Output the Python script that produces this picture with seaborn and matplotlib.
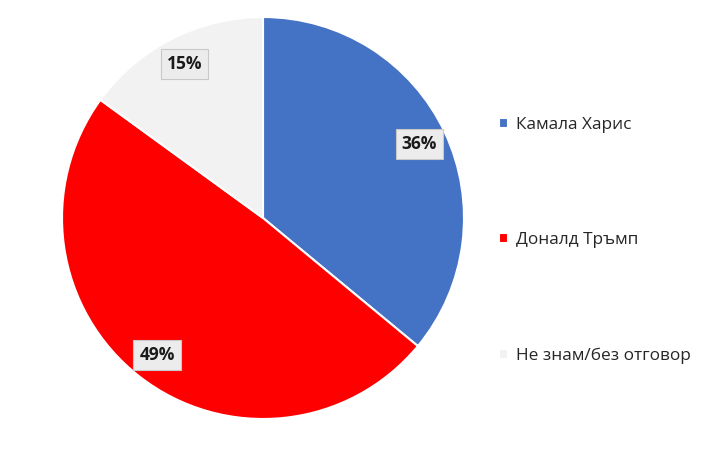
import seaborn as sns
import matplotlib.pyplot as plt

candidates = ['Камала Харис', 'Доналд Тръмп', 'Не знам/без отговор']
shares = [36, 49, 15]
colors = ['#4472C4', '#FF0000', '#F2F2F2']

sns.set_style('white')
plt.rcParams['font.family'] = ['Open Sans', 'Noto Sans', 'DejaVu Sans']

fig = plt.figure(figsize=(7.1, 4.61), dpi=100)
# pie centre ~ (263, 218) px, radius ~ 203 px
ax = fig.add_axes([(263 - 203) / 710, (461 - 218 - 203) / 461, 406 / 710, 406 / 461])

patches, _, pcts = ax.pie(shares, colors=colors, startangle=90, counterclock=False,
                          radius=1, autopct='%d%%', pctdistance=0.86,
                          wedgeprops={'edgecolor': 'white', 'linewidth': 1.5})
ax.set_xlim(-1.01, 1.01)
ax.set_ylim(-1.01, 1.01)
ax.set_aspect('equal')

for t in pcts:
    t.set_fontsize(12.5)
    t.set_fontweight('bold')
    t.set_color('#1a1a1a')
    t.set_bbox(dict(boxstyle='square,pad=0.35', fc='#ececec', ec='#c8c8c8', lw=0.8))

fig.legend(patches, candidates, loc='center left', bbox_to_anchor=(0.703, 0.478),
           frameon=False, fontsize=12.4, labelspacing=5.78, handlelength=0.5,
           handleheight=0.5, handletextpad=0.5, borderpad=0, borderaxespad=0)

fig.savefig('out.png', dpi=100)
